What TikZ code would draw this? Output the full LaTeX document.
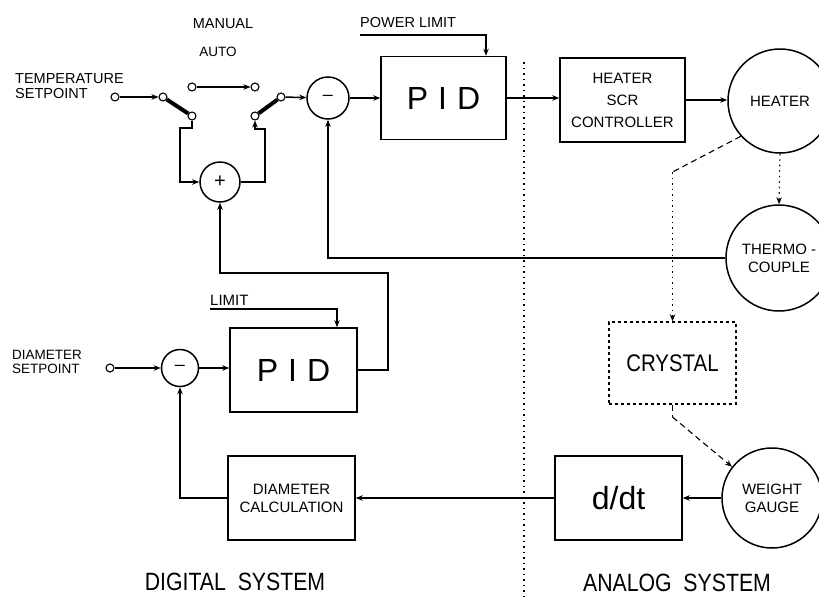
\documentclass[tikz,border=0pt]{standalone}
\usepackage{fontspec}
\setmainfont{Liberation Sans}
\newfontfamily\cf[FakeStretch=0.85]{Liberation Sans}
\usetikzlibrary{arrows.meta}
\begin{document}
\begin{tikzpicture}[x=1pt,y=-1pt,
  >={Stealth[length=7pt,width=5.5pt]},
  sig/.style={line width=1.5pt,->},
  blk/.style={draw,line width=1.5pt,rectangle,inner sep=0pt},
  rnd/.style={draw,line width=1.5pt,circle,inner sep=0pt},
  term/.style={draw,line width=1.1pt,circle,minimum size=8pt,inner sep=0pt,fill=white},
  sml/.style={font=\fontsize{14.5}{14.5}\selectfont},
  mid/.style={font=\fontsize{15}{18}\selectfont,align=center},
  pidf/.style={font=\fontsize{32}{32}\selectfont},
  big/.style={font=\cf\fontsize{25}{25}\selectfont},
  phys/.style={line width=1.1pt,dash pattern=on 6pt off 4pt},
  dots/.style={line width=1.1pt,dash pattern=on 1.5pt off 4pt}
]
\useasboundingbox (0,0) rectangle (819,598);
\clip (0,0) rectangle (819,598);

% blocks
\node[blk,minimum width=125pt,minimum height=83pt,pidf] (pid1) at (443.5,98) {P\hspace{10pt}I\hspace{10pt}D};
\node[blk,minimum width=125pt,minimum height=84pt,font=\fontsize{15}{22}\selectfont,align=center] (scr) at (622.5,100) {HEATER\\SCR\\CONTROLLER};
\node[rnd,minimum size=104pt,mid] (heater) at (780,101) {HEATER};
\node[rnd,minimum size=106pt,mid] (thermo) at (779,258) {THERMO -\\COUPLE};
\node[blk,dashed,minimum width=127pt,minimum height=82pt,font=\cf\fontsize{24}{24}\selectfont] (crystal) at (672.5,363) {CRYSTAL};
\node[rnd,minimum size=100pt,mid] (weight) at (772,498) {WEIGHT\\GAUGE};
\node[blk,minimum width=127pt,minimum height=84pt,pidf] (ddt) at (618.5,498) {d/dt};
\node[blk,minimum width=127pt,minimum height=84pt,mid] (dcalc) at (291.5,498) {DIAMETER\\CALCULATION};
\node[blk,minimum width=127pt,minimum height=84pt,pidf] (pid2) at (293.5,370) {P\hspace{10pt}I\hspace{10pt}D};

% summing junctions
\node[rnd,minimum size=42pt,font=\fontsize{18}{18}\selectfont] (sum1) at (328,98) {\textendash};
\node[rnd,minimum size=40pt,font=\fontsize{20}{20}\selectfont] (sump) at (220,182) {+};
\node[rnd,minimum size=37pt,font=\fontsize{18}{18}\selectfont] (sum2) at (180,368) {\textendash};

% terminals and switch contacts
\node[term] (t1) at (115,97) {};
\node[term] (sL) at (163,97) {};
\node[term] (cLu) at (192,87) {};
\node[term] (cLd) at (192,116) {};
\node[term] (cRu) at (255,87) {};
\node[term] (cRd) at (255,116) {};
\node[term] (sR) at (281,97) {};
\node[term] (t2) at (110,368) {};

% labels
\node[sml] (lman) at (223,24) {MANUAL};
\node[font=\fontsize{13.5}{13.5}\selectfont] (lauto) at (218,52) {AUTO};
\node[sml,anchor=west,align=left,inner sep=0pt] (ltemp) at (15,86) {TEMPERATURE\\SETPOINT};
\node[sml,anchor=base west,inner sep=0pt] (lpow) at (360,27) {POWER LIMIT};
\node[font=\fontsize{15}{15}\selectfont,anchor=base west,inner sep=0pt] (llim) at (210,305) {LIMIT};
\node[font=\fontsize{13.5}{13.5}\selectfont,anchor=west,align=left,inner sep=0pt] (ldia) at (12,362) {DIAMETER\\SETPOINT};
\node[big,anchor=base,inner sep=0pt] (ldig) at (235,590) {DIGITAL\ \ SYSTEM};
\node[big,anchor=base,inner sep=0pt] (lana) at (677,591) {ANALOG\ \ SYSTEM};

% divider
\draw[dots] (524,62) -- (524,598);

% temperature loop
\draw[sig] (t1) -- (sL);
\draw[line width=4pt] (sL) -- (cLd);
\draw[sig] (cLu) -- (cRu);
\draw[line width=4pt] (cRd) -- (sR);
\draw[sig] (sR) -- (sum1);
\draw[sig] (sum1) -- (pid1);
\coordinate (pw) at (360,35);
\draw[sig] (pw) -| ([xshift=42.5pt]pid1.north);
\draw[sig] (pid1.east) -- (scr.west |- pid1.east);
\draw[sig] (scr.east) -- (heater.west |- scr.east);
\draw[dots,->] (heater.south) -- (thermo.north);
\draw[sig] (thermo.west) -| (sum1.south);

% switch / summer paths
\draw[sig] (cLd.south) -- (192,128) -- (180,128) |- (sump.west);
\draw[sig] (sump.east) -| (265,129) -| (cRd.south);

% physical links
\coordinate (hc) at (672.5,172);
\draw[phys] (heater.222) -- (hc);
\draw[dots,->] (hc) -- (crystal.north);
\coordinate (cw) at (672.5,417);
\draw[phys] (crystal.south) -- (cw);
\draw[phys,->] (cw) -- (weight.142);

% diameter loop
\draw[sig] (weight) -- (ddt);
\draw[sig] (ddt) -- (dcalc);
\draw[sig] (dcalc.west) -| (sum2.south);
\draw[sig] (t2) -- (sum2);
\draw[sig] (sum2) -- (pid2.west |- sum2.east);
\coordinate (lm) at (210,309);
\draw[sig] (lm) -| ([xshift=43.5pt]pid2.north);
\draw[sig] (pid2.east) -| (388,273) -| (sump.south);
\end{tikzpicture}
\end{document}
